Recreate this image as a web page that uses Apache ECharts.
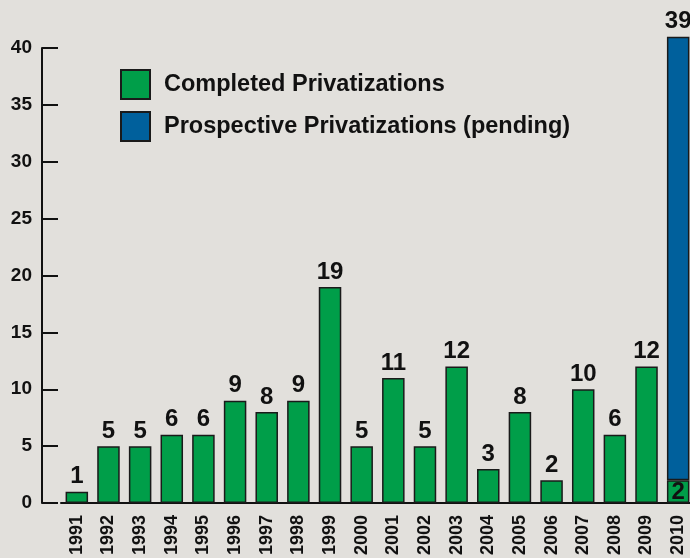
<!DOCTYPE html>
<html>
<head>
<meta charset="utf-8">
<script src="https://cdn.jsdelivr.net/npm/echarts@6/dist/echarts.min.js"></script>
<style>
html,body{margin:0;padding:0;background:#e2e0dc;}
#c{width:690px;height:558px;}
</style>
</head>
<body>
<div id="c"></div>
<script>
var years = ['1991','1992','1993','1994','1995','1996','1997','1998','1999','2000','2001','2002','2003','2004','2005','2006','2007','2008','2009','2010'];
var completed = [1,5,5,6,6,9,8,9,19,5,11,5,12,3,8,2,10,6,12,2];
var prospective = ['-','-','-','-','-','-','-','-','-','-','-','-','-','-','-','-','-','-','-',39];
var yTicks = [0,5,10,15,20,25,30,35,40];

var FONT = '"Liberation Sans", Arial, Helvetica, sans-serif';
var chart = echarts.init(document.getElementById('c'));

var completedData = completed.map(function(v, i){
  if (i === completed.length - 1) {
    return {value: v, label: {position: 'inside', offset:[0,1]}};
  }
  return v;
});

chart.setOption({
  backgroundColor: '#e2e0dc',
  animation: false,
  grid: {left: 61, top: 48, width: 633, height: 455, containLabel: false, outerBoundsMode: 'none'},
  legend: {
    orient: 'vertical', left: 115, top: 64,
    itemWidth: 29, itemHeight: 29, itemGap: 11,
    icon: 'rect',
    textStyle: {fontFamily: FONT, fontWeight: 'bold', fontSize: 23.5, color: '#111', padding: [0,0,0,9]},
    data: ['Completed Privatizations', 'Prospective Privatizations (pending)']
  },
  xAxis: {
    type: 'category', data: years, boundaryGap: true,
    axisLine: {lineStyle: {color: '#111', width: 2}},
    axisTick: {inside: true, length: 4, interval: 0, lineStyle: {color: '#111', width: 2}},
    axisLabel: {interval: 0, rotate: 90, margin: 12, fontFamily: FONT, fontWeight: 'bold', fontSize: 18, color: '#111'}
  },
  yAxis: {
    type: 'value', min: 0, max: 40, interval: 5, offset: 19,
    splitLine: {show: false},
    axisLine: {show: true, lineStyle: {color: '#111', width: 2}},
    axisTick: {show: true, inside: true, length: 16, lineStyle: {color: '#111', width: 2}},
    axisLabel: {margin: 10, fontFamily: FONT, fontWeight: 'bold', fontSize: 19, color: '#111'}
  },
  series: [
    {
      name: 'Completed Privatizations', type: 'bar', stack: 'a', barWidth: 22.5, clip: false,
      data: completedData,
      itemStyle: {color: '#009e49', borderColor: '#1a1a1a', borderWidth: 1.5},
      label: {show: true, position: 'top', distance: 3, fontFamily: FONT, fontWeight: 'bold', fontSize: 24, color: '#111'}
    },
    {
      name: 'Prospective Privatizations (pending)', type: 'bar', stack: 'a', barWidth: 22.5, clip: false,
      data: prospective,
      itemStyle: {color: '#00609c', borderColor: '#1a1a1a', borderWidth: 1.5},
      label: {show: true, position: 'top', distance: 3, fontFamily: FONT, fontWeight: 'bold', fontSize: 24, color: '#111'}
    }
  ]
});
</script>
</body>
</html>
